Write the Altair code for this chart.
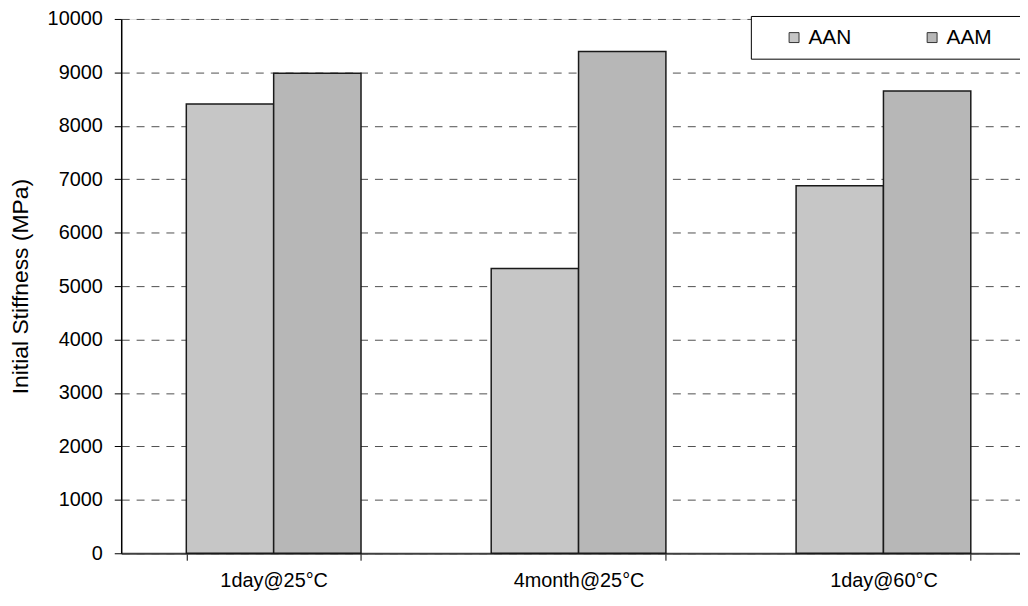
import altair as alt
import pandas as pd

categories = ["1day@25°C", "4month@25°C", "1day@60°C"]
series = ["AAN", "AAM"]
aan_values = [8410, 5330, 6880]
aam_values = [8985, 9390, 8650]
y_ticks = [0, 1000, 2000, 3000, 4000, 5000, 6000, 7000, 8000, 9000, 10000]
series_colors = ["#c6c6c6", "#b7b7b7"]

rows = []
for c, a, m in zip(categories, aan_values, aam_values):
    rows.append({"condition": c, "series": "AAN", "stiffness": a})
    rows.append({"condition": c, "series": "AAM", "stiffness": m})
df = pd.DataFrame(rows)

FONT = "Liberation Sans"

chart = alt.Chart(df).mark_bar(stroke="#1a1a1a", strokeWidth=1.5).encode(
    x=alt.X(
        "condition:N",
        sort=categories,
        scale=alt.Scale(paddingInner=0.427, paddingOuter=0.2135),
        axis=alt.Axis(
            title=None, labelAngle=0, tickBand="extent", ticks=True, tickSize=7,
            tickColor="#000000", tickWidth=1, domainColor="#404040", domainWidth=2,
            labelFontSize=20, labelPadding=10, labelColor="#000000", labelFont=FONT,
            grid=False,
        ),
    ),
    xOffset=alt.XOffset("series:N", sort=series,
                        scale=alt.Scale(paddingInner=0, paddingOuter=0)),
    y=alt.Y(
        "stiffness:Q",
        scale=alt.Scale(domain=[0, 10000], nice=False),
        axis=alt.Axis(
            values=y_ticks, title="Initial Stiffness (MPa)", format="d",
            titleFont=FONT, titleFontSize=23, titleFontWeight="normal", titleColor="#000000",
            titleX=-101, titleY=269, titleAngle=-90, titleAlign="center", titleBaseline="middle",
            labelFont=FONT, labelFontSize=20, labelColor="#000000", labelPadding=12,
            tickSize=7, tickColor="#000000", domainColor="#000000", domainWidth=1.5,
            grid=True, gridDash=[8, 7], gridColor="#505050", gridWidth=1,
        ),
    ),
    color=alt.Color(
        "series:N",
        sort=series,
        scale=alt.Scale(domain=series, range=series_colors),
        legend=alt.Legend(
            title="\u00a0", titleOrient="right", titleFontSize=10, titlePadding=32,
            orient="none", legendX=634, legendY=-3, direction="horizontal", columns=2,
            symbolType="square", symbolSize=100, symbolStrokeColor="#333333",
            symbolStrokeWidth=1, symbolOpacity=1, symbolOffset=22,
            labelFont=FONT, labelFontSize=21, labelColor="#000000", labelOffset=4,
            columnPadding=48, padding=11, strokeColor="#000000", fillColor="#ffffff",
        ),
    ),
).properties(
    width=921,
    height=538,
    padding={"left": 114, "top": 9, "right": -16, "bottom": 43},
    autosize=alt.AutoSizeParams(type="none"),
).configure_view(stroke=None).configure(background="#ffffff")

chart.save("out.html", embed_options={"renderer": "svg", "actions": False})
